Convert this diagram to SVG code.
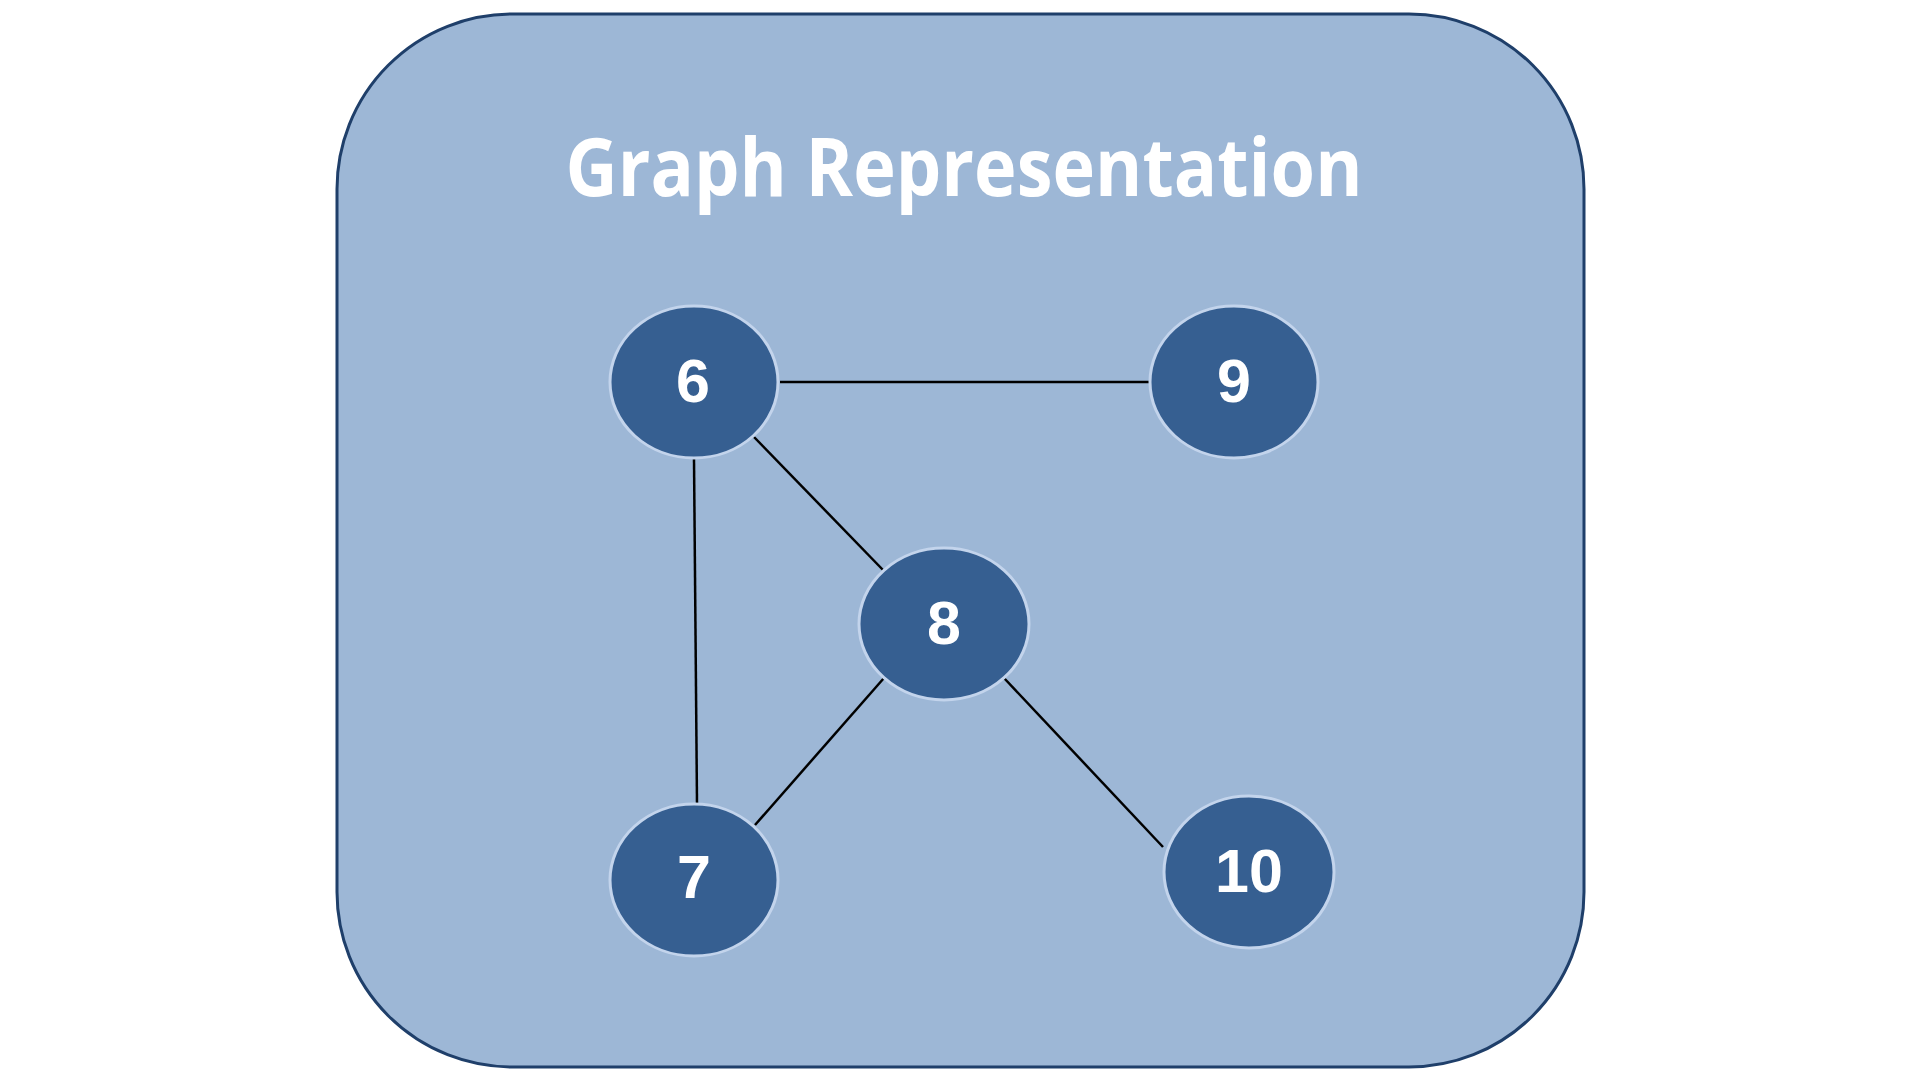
<svg xmlns="http://www.w3.org/2000/svg" width="1920" height="1080" viewBox="0 0 1920 1080">
<style>
.node ellipse{fill:#365F91;stroke:#C3D4EC;stroke-width:3}
.node text{font-family:"Liberation Sans",Arial,sans-serif;font-weight:bold;font-size:61px;fill:#FFFFFF;text-anchor:middle}
.edges line{stroke:#000000;stroke-width:2.5}
</style>
<rect x="0" y="0" width="1920" height="1080" fill="#FFFFFF"/>
<g id="panel">
<rect x="337" y="14" width="1247" height="1053" rx="175" ry="175" fill="#9DB7D6" stroke="#1F3F6A" stroke-width="3"/>
<text x="964" y="196" text-anchor="middle" font-family="'Open Sans','Noto Sans',sans-serif" font-weight="bold" font-size="80" fill="#FFFFFF" textLength="797" lengthAdjust="spacingAndGlyphs">Graph Representation</text>
</g>
<g id="edges" class="edges">
<line x1="780" y1="382" x2="1149" y2="382"/>
<line x1="754" y1="437" x2="884" y2="571"/>
<line x1="694" y1="459" x2="697" y2="804"/>
<line x1="884" y1="678" x2="755" y2="825"/>
<line x1="1004" y1="678" x2="1163" y2="847"/>
</g>
<g id="node6" class="node"><ellipse cx="694" cy="382" rx="84" ry="76"/><text x="693" y="402">6</text></g>
<g id="node9" class="node"><ellipse cx="1234" cy="382" rx="84" ry="76"/><text x="1234" y="402">9</text></g>
<g id="node8" class="node"><ellipse cx="944" cy="624" rx="85" ry="76"/><text x="944" y="644">8</text></g>
<g id="node7" class="node"><ellipse cx="694" cy="880" rx="84" ry="76"/><text x="694" y="898">7</text></g>
<g id="node10" class="node"><ellipse cx="1249" cy="872" rx="85" ry="76"/><text x="1249" y="892">10</text></g>
</svg>
